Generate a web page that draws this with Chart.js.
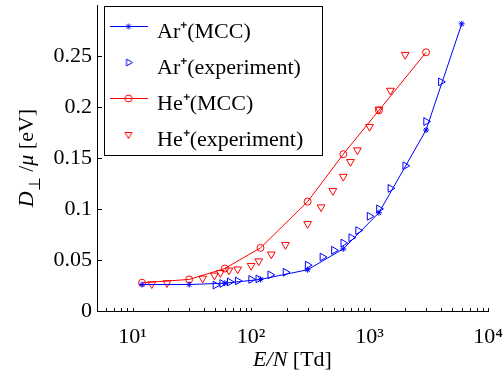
<!DOCTYPE html>
<html>
<head>
<meta charset="utf-8">
<script src="https://cdn.jsdelivr.net/npm/chart.js@4.4.1/dist/chart.umd.min.js"></script>
<style>
  html, body { margin: 0; padding: 0; background: #fff; }
</style>
</head>
<body>
<canvas id="chart" width="503" height="376"></canvas>
<script>
// E/N [Td] and D_perp/mu [eV]
const arMccX = [12, 30, 60, 120, 300, 600, 1200, 3000, 6000];
const arMccY = [0.026, 0.026, 0.0273, 0.031, 0.0405, 0.061, 0.0965, 0.1777, 0.282];

const heMccX = [12, 30, 60, 120, 300, 600, 1200, 3000];
const heMccY = [0.0277, 0.031, 0.0417, 0.062, 0.1074, 0.154, 0.197, 0.254];

const arExpX = [50, 57, 66, 77, 100, 115, 145, 195, 300, 400, 500, 600, 700, 800, 1000, 1200, 1500, 2000, 3000, 4000];
const arExpY = [0.0255, 0.027, 0.0285, 0.0295, 0.031, 0.0315, 0.0355, 0.038, 0.045, 0.053, 0.0596, 0.0667, 0.072, 0.079, 0.093, 0.1003, 0.1204, 0.1426, 0.186, 0.225];

const heExpX = [14.5, 19.5, 39, 49, 55, 65, 77, 100, 116, 148, 195, 300, 390, 490, 600, 690, 790, 1000, 1200, 1500, 2000];
const heExpY = [0.0265, 0.0275, 0.032, 0.035, 0.0375, 0.04, 0.041, 0.0445, 0.049, 0.0557, 0.065, 0.0856, 0.102, 0.118, 0.132, 0.1465, 0.158, 0.181, 0.198, 0.2165, 0.2517];

const seriesNames = ['Ar\u207A(MCC)', 'Ar\u207A(experiment)', 'He\u207A(MCC)', 'He\u207A(experiment)'];

const xMajorTicks = [10, 100, 1000, 10000];
const xTickLabels = ['10\u00B9', '10\u00B2', '10\u00B3', '10\u2074'];
const yTicks = [0, 0.05, 0.1, 0.15, 0.2, 0.25];
const yTickLabels = ['0', '0.05', '0.1', '0.15', '0.2', '0.25'];

const SERIF = "'Liberation Serif', 'Times New Roman', serif";
const BLUE = '#0000ff';
const RED = '#ff0000';

const pts = (xs, ys) => xs.map((x, i) => ({ x, y: ys[i] }));

// minor ticks on the log axis (1..9 in each decade)
const xMinorTicks = [5, 6, 7, 8, 9];
[10, 100, 1000].forEach(d => {
  for (let k = 1; k <= 9; k++) xMinorTicks.push(k * d);
});
xMinorTicks.push(10000);

// little line+marker pictures for the legend (sit a bit above the text middle)
function legendIcon(color, style, rotation, radius, withLine) {
  const c = document.createElement('canvas');
  c.width = 38;
  c.height = 20;
  const g = c.getContext('2d');
  g.strokeStyle = color;
  g.fillStyle = 'rgba(0,0,0,0)';
  g.lineWidth = 1;
  if (withLine) {
    g.beginPath();
    g.moveTo(0, 4.5);
    g.lineTo(38, 4.5);
    g.stroke();
  }
  Chart.helpers.drawPoint(g, { pointStyle: style, rotation, radius, borderWidth: 1 }, 19, 4.5);
  return c;
}

const icons = [
  legendIcon(BLUE, 'star', 0, 3, true),
  legendIcon(BLUE, 'triangle', 90, 4, false),
  legendIcon(RED, 'circle', 0, 3.5, true),
  legendIcon(RED, 'triangle', 180, 4, false)
];

function drawParts(ctx, parts, x, y) {
  // parts: [text, italic, size, dy]
  let total = 0;
  parts.forEach(p => {
    ctx.font = (p[1] ? 'italic ' : '') + p[2] + 'px ' + SERIF;
    total += ctx.measureText(p[0]).width;
  });
  let cx = x - total / 2;
  parts.forEach(p => {
    ctx.font = (p[1] ? 'italic ' : '') + p[2] + 'px ' + SERIF;
    ctx.fillText(p[0], cx, y + p[3]);
    cx += ctx.measureText(p[0]).width;
  });
}

const extras = {
  id: 'extras',
  afterDraw(chart) {
    const { ctx } = chart;
    const xs = chart.scales.x;
    const ys = chart.scales.y;
    ctx.save();
    ctx.strokeStyle = '#000';
    ctx.lineWidth = 1;

    // inward tick marks
    ctx.beginPath();
    xMinorTicks.forEach(v => {
      const px = Math.round(xs.getPixelForValue(v)) + 0.5;
      ctx.moveTo(px, ys.bottom);
      ctx.lineTo(px, ys.bottom - 3);
    });
    yTicks.forEach(v => {
      const py = Math.round(ys.getPixelForValue(v)) + 0.5;
      ctx.moveTo(xs.left, py);
      ctx.lineTo(xs.left + 5, py);
    });
    ctx.stroke();

    // frame round the legend
    const hb = chart.legend.legendHitBoxes;
    if (hb && hb.length) {
      const left = hb[0].left - 7;
      const top = hb[0].top - 15;
      const last = hb[hb.length - 1];
      const bottom = last.top + last.height + 4;
      const right = Math.max(...hb.map(b => b.left + b.width)) + 19;
      ctx.strokeRect(Math.round(left) + 0.5, Math.round(top) + 0.5, Math.round(right - left), Math.round(bottom - top));
    }

    // axis titles
    ctx.fillStyle = '#000';
    ctx.textBaseline = 'alphabetic';
    ctx.textAlign = 'left';
    drawParts(ctx, [['E/N', true, 22, 0], [' [Td]', false, 22, 0]], (xs.left + xs.right) / 2, 366);

    ctx.translate(33, 158);
    ctx.rotate(-Math.PI / 2);
    drawParts(ctx, [['D', true, 22, 0], ['\u22A5', false, 16, 7], [' /', false, 22, 0], ['\u03BC', true, 22, 0], [' [eV]', false, 22, 0]], 0, 0);
    ctx.restore();
  }
};

new Chart(document.getElementById('chart'), {
  type: 'line',
  data: {
    datasets: [
      {
        label: seriesNames[0],
        data: pts(arMccX, arMccY),
        borderColor: BLUE,
        borderWidth: 1,
        pointStyle: 'star',
        pointRadius: 3,
        pointBorderColor: BLUE,
        pointBackgroundColor: 'rgba(0,0,0,0)',
        pointBorderWidth: 1,
        tension: 0
      },
      {
        label: seriesNames[1],
        data: pts(arExpX, arExpY),
        showLine: false,
        pointStyle: 'triangle',
        pointRotation: 90,
        pointRadius: 4.5,
        pointBorderColor: BLUE,
        pointBackgroundColor: 'rgba(0,0,0,0)',
        pointBorderWidth: 1
      },
      {
        label: seriesNames[2],
        data: pts(heMccX, heMccY),
        borderColor: RED,
        borderWidth: 1,
        pointStyle: 'circle',
        pointRadius: 3.5,
        pointBorderColor: RED,
        pointBackgroundColor: 'rgba(0,0,0,0)',
        pointBorderWidth: 1,
        tension: 0
      },
      {
        label: seriesNames[3],
        data: pts(heExpX, heExpY),
        showLine: false,
        pointStyle: 'triangle',
        pointRotation: 180,
        pointRadius: 4.5,
        pointBorderColor: RED,
        pointBackgroundColor: 'rgba(0,0,0,0)',
        pointBorderWidth: 1
      }
    ]
  },
  options: {
    responsive: false,
    animation: false,
    devicePixelRatio: 1,
    clip: false,
    layout: { padding: { top: 4, right: 15, left: 0, bottom: 0 } },
    plugins: {
      tooltip: { enabled: false },
      legend: {
        position: 'chartArea',
        align: 'start',
        title: { display: true, text: '', font: { size: 7, lineHeight: 1 }, padding: 0 },
        labels: {
          usePointStyle: true,
          pointStyleWidth: 35,
          padding: 14,
          color: '#000',
          font: { family: SERIF, size: 22 },
          generateLabels: chart => chart.data.datasets.map((ds, i) => ({
            text: ds.label,
            pointStyle: icons[i],
            fillStyle: 'rgba(0,0,0,0)',
            strokeStyle: 'rgba(0,0,0,0)',
            lineWidth: 0,
            fontColor: '#000',
            hidden: false,
            datasetIndex: i
          }))
        }
      }
    },
    scales: {
      x: {
        type: 'logarithmic',
        min: 5,
        max: 10000,
        grid: { display: false, drawTicks: false },
        border: { display: true, color: '#000', width: 1 },
        afterBuildTicks: s => { s.ticks = xMajorTicks.map(v => ({ value: v })); },
        afterFit: s => { s.height = 65; s.paddingLeft = 0; s.paddingRight = 0; },
        ticks: {
          autoSkip: false,
          maxRotation: 0,
          padding: 13,
          color: '#000',
          font: { family: SERIF, size: 22 },
          callback: v => xTickLabels[xMajorTicks.indexOf(v)] || ''
        }
      },
      y: {
        min: 0,
        max: 0.3,
        grid: { display: false, drawTicks: false },
        border: { display: true, color: '#000', width: 1 },
        afterBuildTicks: s => { s.ticks = yTicks.map(v => ({ value: v })); },
        afterFit: s => { s.width = 97; s.paddingTop = 0; s.paddingBottom = 0; },
        ticks: {
          padding: 5,
          color: '#000',
          font: { family: SERIF, size: 22 },
          callback: v => yTickLabels[yTicks.indexOf(v)]
        }
      }
    }
  },
  plugins: [extras]
});
</script>
</body>
</html>
